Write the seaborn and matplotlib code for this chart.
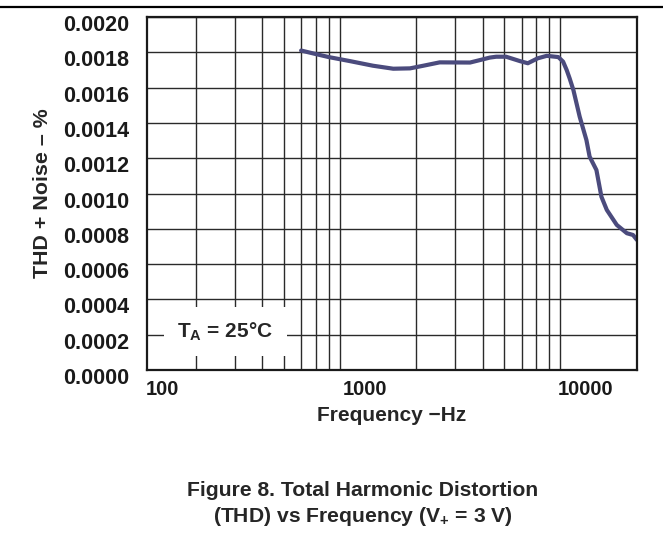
import matplotlib
matplotlib.use("Agg")
import matplotlib.pyplot as plt
import matplotlib.transforms as mtransforms
from matplotlib.lines import Line2D
import seaborn as sns
import pandas as pd

# values
freq_hz = [600, 700, 800, 1000, 1270, 1570, 1870, 2150, 2550, 3500, 4000, 4300,
           4600, 5100, 5900, 6400, 7100, 7800, 8800, 9250, 9600, 9900, 10300,
           11000, 11800, 12200, 13100, 13800, 14600, 16200, 18000, 19200, 20000]
thd_pct = [0.00181, 0.00179, 0.001773, 0.00175, 0.001724, 0.001707, 0.001709,
           0.001724, 0.001743, 0.001742, 0.00176, 0.00177, 0.001775, 0.001775,
           0.00175, 0.001738, 0.001766, 0.00178, 0.001773, 0.001747, 0.0017,
           0.001653, 0.001586, 0.001435, 0.001303, 0.001209, 0.001133, 0.000982,
           0.000907, 0.000822, 0.000775, 0.000765, 0.000737]

x_limits = [120, 20000]
x_tick_values = [120, 1000, 10000]
x_tick_labels = ["100", "1000", "10000"]
x_grid_values = [200, 300, 400, 500, 600, 700, 800, 900, 1000,
                 2000, 3000, 4000, 5000, 6000, 7000, 8000, 9000, 10000]
y_tick_values = [i * 0.0002 for i in range(11)]
y_tick_labels = ["%.4f" % v for v in y_tick_values]

df = pd.DataFrame({"freq": freq_hz, "thd": thd_pct})

sns.set_style("white")
plt.rcParams["font.family"] = ["Liberation Sans", "DejaVu Sans"]
plt.rcParams["font.weight"] = "bold"
plt.rcParams["mathtext.fontset"] = "custom"
plt.rcParams["mathtext.rm"] = "Liberation Sans:bold"
plt.rcParams["mathtext.it"] = "Liberation Sans:bold"
plt.rcParams["mathtext.bf"] = "Liberation Sans:bold"

fig = plt.figure(figsize=(6.63, 5.33), dpi=100)
ax = fig.add_axes([0.2217, 0.3058, 0.739, 0.6623])

sns.lineplot(data=df, x="freq", y="thd", ax=ax, color="#4b4b7d", linewidth=3.0)

ax.set_xscale("log")
ax.set_xlim(x_limits)
ax.set_ylim(0, 0.0020)

ax.set_xticks(x_tick_values)
ax.set_xticklabels(x_tick_labels)
ax.set_xticks(x_grid_values, minor=True)
ax.xaxis.set_minor_formatter(plt.NullFormatter())
ax.set_yticks(y_tick_values)
ax.set_yticklabels(y_tick_labels)

ax.tick_params(axis="both", which="both", length=0, colors="#1a1a1a")
ax.tick_params(axis="x", pad=7, labelsize=14.5)
ax.tick_params(axis="y", pad=13, labelsize=15.5)

# the reference labels sit a bit off their grid lines
dx = mtransforms.ScaledTranslation(0.15, 0, fig.dpi_scale_trans)
for lbl in ax.get_xticklabels():
    lbl.set_transform(lbl.get_transform() + dx)
dy = mtransforms.ScaledTranslation(0, -0.06, fig.dpi_scale_trans)
for lbl in ax.get_yticklabels():
    lbl.set_transform(lbl.get_transform() + dy)

ax.grid(True, which="minor", axis="x", color="#2a2a2a", linewidth=1.0)
ax.grid(True, which="major", axis="y", color="#2a2a2a", linewidth=1.0)
ax.grid(False, which="major", axis="x")
for s in ax.spines.values():
    s.set_color("#1a1a1a")
    s.set_linewidth(1.6)

ax.set_xlabel("Frequency \u2212Hz", fontsize=15, fontweight="bold", labelpad=5)
ax.set_ylabel("THD + Noise \u2013 %", fontsize=15.4, fontweight="bold", labelpad=8)

ax.text(0.16, 0.109, r"T$_{\rm A}$ = 25°C", transform=ax.transAxes,
        fontsize=15, fontweight="bold", ha="center", va="center", zorder=5,
        bbox=dict(boxstyle="square,pad=0.65", fc="white", ec="none"))

fig.add_artist(Line2D([0, 1], [1 - 7 / 533, 1 - 7 / 533], transform=fig.transFigure,
                      color="black", linewidth=1.6))

fig.text(363 / 663, 1 - 490 / 533, "Figure 8. Total Harmonic Distortion",
         ha="center", va="center", fontsize=15.2, fontweight="bold")
fig.text(363 / 663, 1 - 517 / 533, r"(THD) vs Frequency (V$_{+}$ = 3 V)",
         ha="center", va="center", fontsize=15.2, fontweight="bold")

fig.savefig("out.png", dpi=100)
